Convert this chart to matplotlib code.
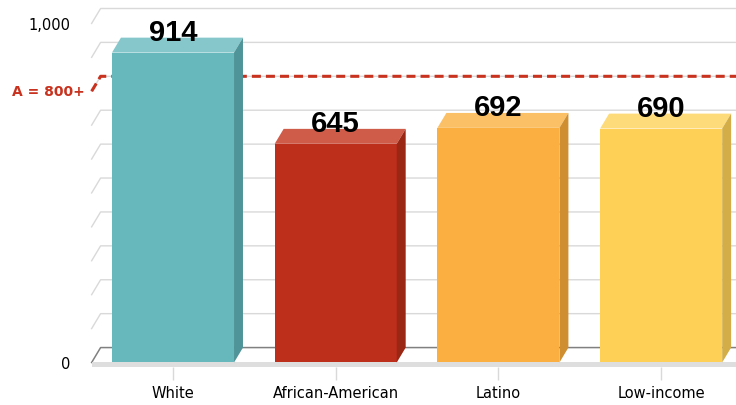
import matplotlib.pyplot as plt
from matplotlib.patches import Polygon

# Data
categories = ['White', 'African-American', 'Latino', 'Low-income']
scores = [914, 645, 692, 690]
target_score = 800
target_label = 'A = 800+'

# Face colours for each bar: front, top, side
front_colors = ['#66B8BD', '#BE2F1B', '#FAAF40', '#FED055']
top_colors = ['#85C7CB', '#CF5B49', '#FBC066', '#FEDB7A']
side_colors = ['#4F9498', '#9A2614', '#CF8F30', '#D3AE48']

# 3D look: depth offset in data units (x in categories, y in score units)
DX = 0.055
DY = 44
BAR_W = 0.75
X_LEFT, X_RIGHT = -0.5, 3.46
Y_BOTTOM, Y_TOP = -13.3, 1072

fig = plt.figure(figsize=(7.36, 4.06), dpi=100)
ax = fig.add_axes([91.65 / 736, 38 / 406, (736 - 91.65) / 736, 368 / 406])
ax.set_xlim(X_LEFT, X_RIGHT)
ax.set_ylim(Y_BOTTOM, Y_TOP)
for s in ax.spines.values():
    s.set_visible(False)

# back-wall gridlines with the short diagonal on the left wall
for v in range(100, 1001, 100):
    ax.plot([X_LEFT, X_LEFT + DX, X_RIGHT], [v, v + DY, v + DY],
            color='#D9D9D9', lw=1.0, zorder=1, clip_on=False)

# floor: back baseline and front slab
ax.plot([X_LEFT, X_LEFT + DX, X_RIGHT], [0, DY, DY],
        color='#808080', lw=1.1, zorder=1, clip_on=False)
ax.add_patch(Polygon([(X_LEFT, 0), (X_RIGHT, 0), (X_RIGHT, -12), (X_LEFT, -12)],
                     closed=True, facecolor='#DEDEDE', edgecolor='none', zorder=1))

# target line
ax.plot([X_LEFT, X_LEFT + DX, X_RIGHT],
        [target_score, target_score + DY, target_score + DY],
        color='#C8321E', lw=2.2, dashes=(2.95, 1.65), zorder=2, clip_on=False)
ax.text(X_LEFT - 0.045, target_score, target_label, color='#C8321E',
        fontsize=10, fontweight='bold', ha='right', va='center')

# bars
for i, v in enumerate(scores):
    x0, x1 = i - BAR_W / 2, i + BAR_W / 2
    ax.add_patch(Polygon([(x0, 0), (x1, 0), (x1, v), (x0, v)],
                         closed=True, facecolor=front_colors[i], edgecolor='none', zorder=3))
    ax.add_patch(Polygon([(x0, v), (x1, v), (x1 + DX, v + DY), (x0 + DX, v + DY)],
                         closed=True, facecolor=top_colors[i], edgecolor='none', zorder=3))
    ax.add_patch(Polygon([(x1, 0), (x1 + DX, DY), (x1 + DX, v + DY), (x1, v)],
                         closed=True, facecolor=side_colors[i], edgecolor='none', zorder=3))
    ax.text(i, v + 38, f'{v}', ha='center', va='baseline', fontsize=21,
            fontweight='bold', family='Liberation Sans', color='black', zorder=5)

# axes ticks
ax.set_xticks(range(len(categories)))
ax.set_xticklabels(categories, fontsize=10.5)
ax.tick_params(axis='x', length=9, width=1, color='#D9D9D9', pad=4)
ax.set_yticks([0, 1000])
ax.set_yticklabels(['0', '1,000'], fontsize=10.5)
ax.tick_params(axis='y', length=0, pad=15)

fig.savefig('out.png', dpi=100)
